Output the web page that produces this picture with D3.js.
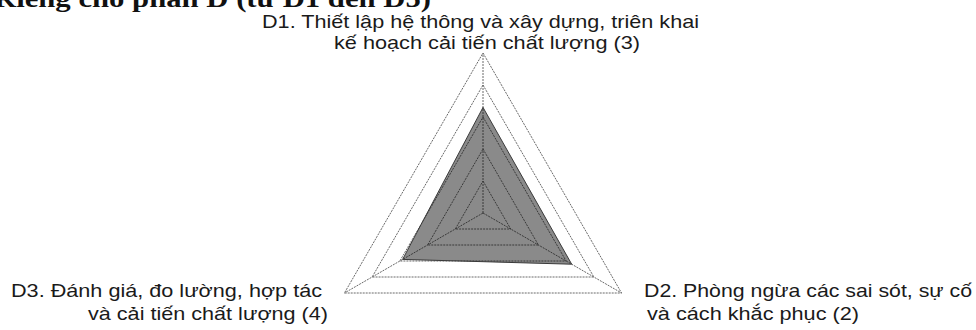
<!DOCTYPE html>
<html>
<head>
<meta charset="utf-8">
<script src="https://cdn.jsdelivr.net/npm/d3@7"></script>
<style>
  html, body { margin: 0; padding: 0; background: #fff; }
  svg { display: block; }
  .lbl { font-family: "Liberation Sans", Arial, sans-serif; font-size: 19px; fill: #1a1a1a; }
  .heading { font-family: "Liberation Serif", "Times New Roman", serif; font-weight: bold; font-size: 26px; fill: #111; }
</style>
</head>
<body>
<div id="chart"></div>
<script>
// Categories (clockwise from top) and scores
const categories = ["D1", "D2", "D3"];
const scores = [3.3, 3.2, 2.9];
const gridLevels = [1, 2, 3, 4, 5];
const maxScore = 5;

// Axis label text, one array of lines per category
const labelLines = [
    ["D1. Thiết lập hệ thông và xây dựng, triên khai", "kế hoạch cải tiến chất lượng (3)"],
    ["D2. Phòng ngừa các sai sót, sự cố", "và cách khắc phục (2)"],
    ["D3. Đánh giá, đo lường, hợp tác", "và cải tiến chất lượng (4)"]
];
const headingText = "Riêng cho phần D (từ D1 đến D5)";

// Dimensions
const width = 976, height = 330;
const cx = 483, cy = 213, radius = 160;

const svg = d3.select("#chart")
    .append("svg")
    .attr("width", width)
    .attr("height", height);

// Heading, cut off by the top edge as in the scan
svg.append("text")
    .attr("class", "heading")
    .attr("x", -6)
    .attr("y", 7)
    .attr("textLength", 437)
    .attr("lengthAdjust", "spacingAndGlyphs")
    .text(headingText);

// Scales
const rScale = d3.scaleLinear().domain([0, maxScore]).range([0, radius]);
const angle = d3.scaleLinear().domain([0, categories.length]).range([0, 2 * Math.PI]);

const g = svg.append("g")
    .attr("transform", `translate(${cx},${cy})`);

const radial = d3.lineRadial()
    .angle((d, i) => angle(i))
    .radius(d => rScale(d))
    .curve(d3.curveLinearClosed);

// Grid rings
g.selectAll(".ring")
    .data(gridLevels)
    .enter()
    .append("path")
    .attr("class", "ring")
    .attr("d", lvl => radial(categories.map(() => lvl)))
    .attr("fill", "none")
    .attr("stroke", "#6a6a6a")
    .attr("stroke-width", 1)
    .attr("stroke-dasharray", "2,1");

// Spokes
g.selectAll(".spoke")
    .data(categories)
    .enter()
    .append("line")
    .attr("class", "spoke")
    .attr("x1", 0)
    .attr("y1", 0)
    .attr("x2", (d, i) => rScale(maxScore) * Math.sin(angle(i)))
    .attr("y2", (d, i) => -rScale(maxScore) * Math.cos(angle(i)))
    .attr("stroke", "#6a6a6a")
    .attr("stroke-width", 1)
    .attr("stroke-dasharray", "2,1");

// Series area
g.append("path")
    .datum(scores)
    .attr("d", radial)
    .attr("fill", "#000")
    .attr("fill-opacity", 0.46)
    .attr("stroke", "#3a3a3a")
    .attr("stroke-width", 1);

// Axis labels (per line: x, baseline, width)
const labelPos = [
    [[262, 28, 437], [334, 49, 306]],
    [[644, 297, 328], [647, 320, 212]],
    [[11, 297, 311], [88, 320, 240]]
];

labelLines.forEach((lines, i) => {
    lines.forEach((line, j) => {
        const p = labelPos[i][j];
        svg.append("text")
            .attr("class", "lbl")
            .attr("x", p[0])
            .attr("y", p[1])
            .attr("textLength", p[2])
            .attr("lengthAdjust", "spacingAndGlyphs")
            .text(line);
    });
});
</script>
</body>
</html>
